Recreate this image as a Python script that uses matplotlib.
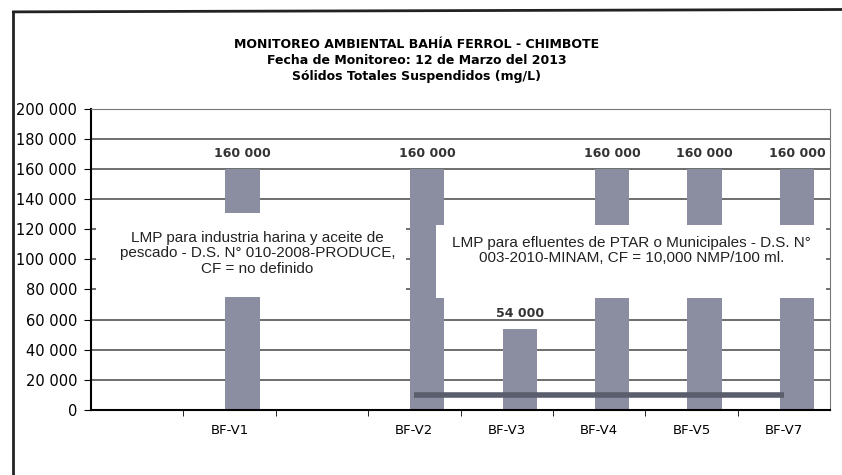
import numpy as np
import matplotlib.pyplot as plt
from matplotlib.patches import Rectangle

# data
stations = ["", "BF-V1", "", "BF-V2", "BF-V3", "BF-V4", "BF-V5", "BF-V7"]
sst = [np.nan, 160000, np.nan, 160000, 54000, 160000, 160000, 160000]
sst_labels = ["", "160 000", "", "160 000", "54 000", "160 000", "160 000", "160 000"]
lmp_ptar = [np.nan, np.nan, np.nan, 10000, 10000, 10000, 10000, 10000]
yticks = np.arange(0, 200001, 20000)

title = ("MONITOREO AMBIENTAL BAHÍA FERROL - CHIMBOTE\n"
         "Fecha de Monitoreo: 12 de Marzo del 2013\n"
         "Sólidos Totales Suspendidos (mg/L)")
note1 = ("LMP para industria harina y aceite de\n"
         "pescado - D.S. N° 010-2008-PRODUCE,\n"
         "CF = no definido")
note2 = ("LMP para efluentes de PTAR o Municipales - D.S. N°\n"
         "003-2010-MINAM, CF = 10,000 NMP/100 ml.")

fig = plt.figure(figsize=(8.42, 4.75), dpi=100)
ax = fig.add_axes([0.108, 0.137, 0.878, 0.634])

x = np.arange(len(stations))
off = 0.14
bars = ax.bar(x + off, sst, width=0.37, color="#8b8ea1", zorder=2)
for xi, v, lab in zip(x, sst, sst_labels):
    if lab:
        ax.text(xi + off, v + 6000, lab, ha="center", va="bottom",
                fontsize=9, fontweight="bold", color="#333333", zorder=5)

ax.plot(x, lmp_ptar, color="#5a5d6c", lw=4, solid_capstyle="butt", zorder=3)

# white annotation boxes covering the bars
ax.add_patch(Rectangle((-0.45, 75000), 3.36, 55500, facecolor="white",
                       edgecolor="none", zorder=4))
ax.add_patch(Rectangle((3.23, 74000), 4.22, 48500, facecolor="white",
                       edgecolor="none", zorder=4))
ax.text(1.3, 104000, note1, ha="center", va="center", fontsize=11,
        family="Liberation Sans", color="#222222", linespacing=1.15, zorder=5)
ax.text(5.35, 106000, note2, ha="center", va="center", fontsize=11,
        family="Liberation Sans", color="#222222", linespacing=1.1, zorder=5)

ax.set_xlim(-0.5, 7.5)
ax.set_ylim(0, 200000)
ax.set_yticks(yticks)
ax.set_yticklabels([f"{int(t):,}".replace(",", " ") for t in yticks], fontsize=10.5)
ax.set_xticks(x)
ax.set_xticklabels(stations, fontsize=9.5)
ax.set_xticks(x[:-1] + 0.5, minor=True)
ax.tick_params(axis="x", which="major", length=0, pad=10)
ax.tick_params(axis="x", which="minor", length=4, direction="out")
ax.tick_params(axis="y", length=5, direction="out", pad=5)
ax.grid(axis="y", color="#555555", lw=1.2, zorder=1)
for s in ["top", "right"]:
    ax.spines[s].set_color("#777777")
for s in ["left", "bottom"]:
    ax.spines[s].set_linewidth(1.5)

fig.text(0.495, 0.872, title, ha="center", va="center", fontsize=9,
         fontweight="bold", linespacing=1.3)

# chart frame (top and left edges visible in the scan)
fig.add_artist(plt.Line2D([0.016, 1.0], [0.975, 0.98], color="#222222", lw=2))
fig.add_artist(plt.Line2D([0.016, 0.016], [0.0, 0.975], color="#222222", lw=2))

fig.savefig("out.png", dpi=100)
